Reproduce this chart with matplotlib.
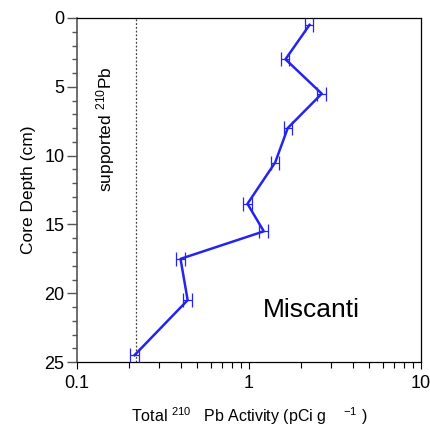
import matplotlib
matplotlib.use("Agg")
import matplotlib.pyplot as plt
from matplotlib.ticker import FixedLocator, NullFormatter

plt.rcParams['font.family'] = ['Liberation Sans Narrow', 'Liberation Sans', 'DejaVu Sans']
plt.rcParams['mathtext.default'] = 'regular'

# core depth (cm) and total 210Pb activity (pCi/g)
depth = [0.5, 3, 5.5, 8, 10.5, 13.5, 15.5, 17.5, 20.5, 24.5]
activity = [2.25, 1.63, 2.65, 1.68, 1.42, 0.98, 1.22, 0.40, 0.44, 0.216]
activity_err = [0.12, 0.09, 0.15, 0.09, 0.07, 0.06, 0.07, 0.025, 0.027, 0.013]
supported = 0.22
site = "Miscanti"

fig = plt.figure(figsize=(4.3, 4.28), dpi=100)
ax = fig.add_axes([0.179, 0.154, 0.8, 0.804])

ax.errorbar(activity, depth, xerr=activity_err, color='#2424f0', lw=1.8,
            elinewidth=0.9, capsize=5, capthick=0.9, zorder=3)
ax.axvline(supported, color='#444444', ls=(0, (1.5, 1.5)), lw=0.9)

ax.set_xscale('log')
ax.set_xlim(0.1, 10)
ax.set_ylim(25, 0)
ax.set_xticks([0.1, 1, 10])
ax.set_xticklabels(['0.1', '1', '10'])
ax.xaxis.set_minor_formatter(NullFormatter())
ax.set_yticks([0, 5, 10, 15, 20, 25])
ax.yaxis.set_minor_locator(FixedLocator([d for d in range(26) if d % 5]))

ax.tick_params(axis='x', which='major', direction='out', length=5, width=0.8, labelsize=13, pad=4)
ax.tick_params(axis='x', which='minor', direction='out', length=4, width=0.8)
ax.tick_params(axis='y', which='major', direction='out', length=7, width=1, labelsize=13,
               color='#555555', pad=2)
ax.tick_params(axis='y', which='minor', direction='out', length=3.6, width=1, color='#555555')
ax.spines['left'].set_color('#555555')
ax.spines['left'].set_linewidth(1.2)
for s in ['top', 'right', 'bottom']:
    ax.spines[s].set_linewidth(0.9)

ax.set_ylabel('Core Depth (cm)', fontsize=12.5, labelpad=6)
ax.set_xlabel('Total $^{210}$   Pb Activity (pCi g    $^{-1}$ )', fontsize=11.5, labelpad=10)

ax.text(0.083, 8.1, 'supported $^{210}$Pb', rotation=90, fontsize=12.5,
        transform=ax.get_yaxis_transform(), ha='center', va='center')
ax.text(0.68, 0.15, site, fontsize=19, transform=ax.transAxes, ha='center', va='center')

fig.savefig('out.png', dpi=100)
